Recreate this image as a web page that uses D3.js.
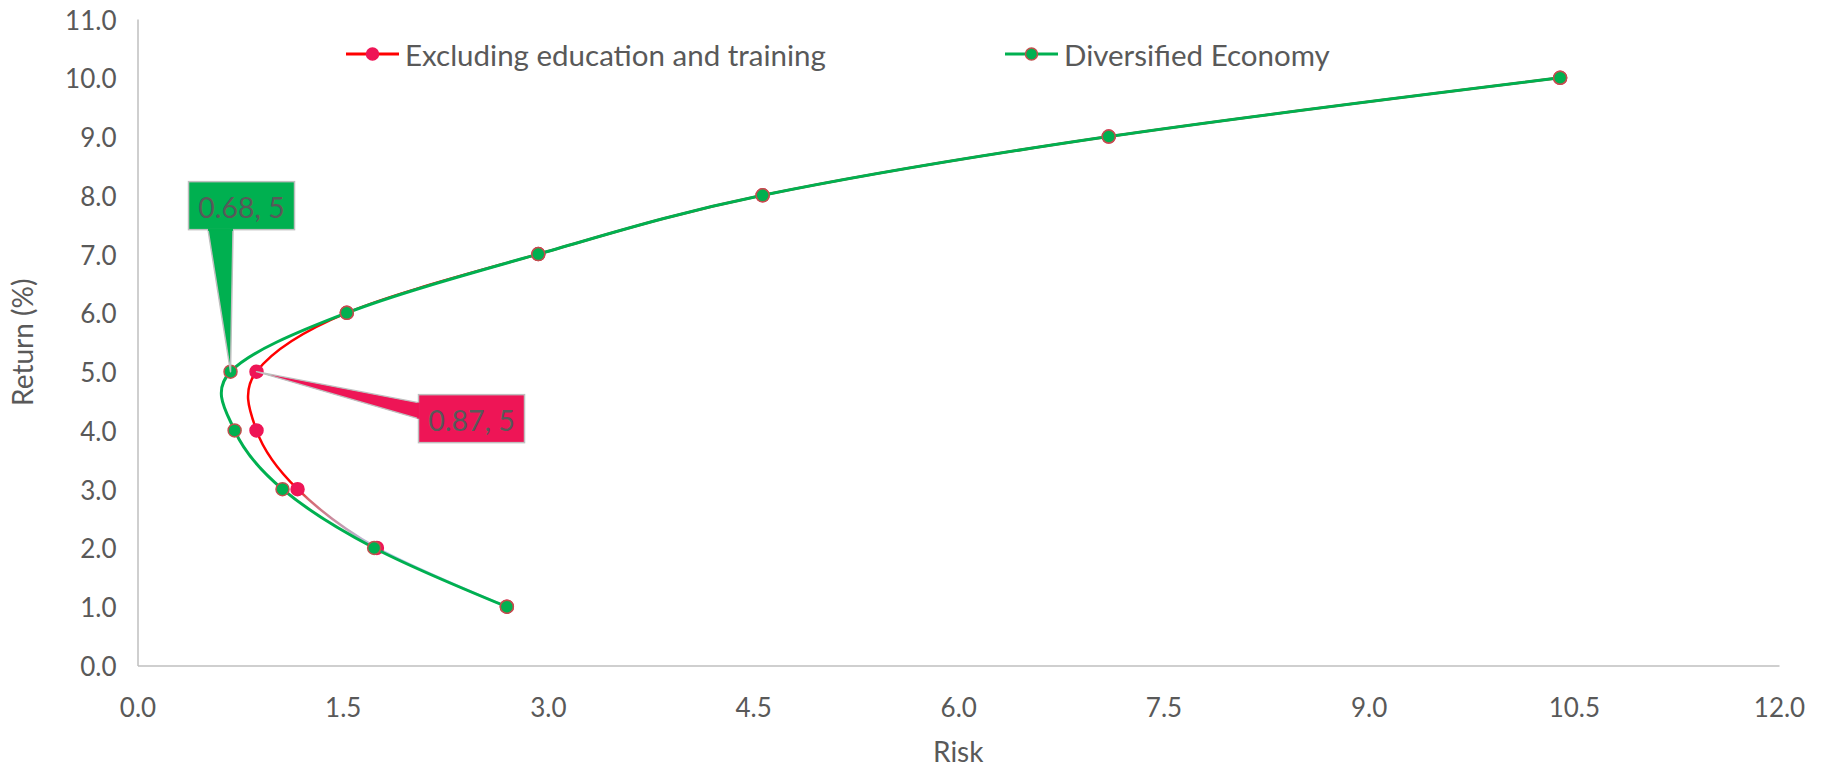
<!DOCTYPE html>
<html>
<head>
<meta charset="utf-8">
<script src="https://cdn.jsdelivr.net/npm/d3@7"></script>
<style>
  html, body { margin: 0; padding: 0; background: #fff; }
  svg { display: block; }
  text { font-family: Lato, "Open Sans", sans-serif; fill: #595959; }
</style>
</head>
<body>
<svg id="chart" width="1829" height="769"></svg>
<script>
// Efficient frontier: return (%) against risk for two portfolios
const returns = [1, 2, 3, 4, 5, 6, 7, 8, 9, 10];
const riskExcluding = [2.70, 1.75, 1.17, 0.87, 0.87, 1.53, 2.93, 4.57, 7.10, 10.40];
const riskDiversified = [2.70, 1.73, 1.06, 0.71, 0.68, 1.53, 2.93, 4.57, 7.10, 10.40];
const seriesNames = ["Excluding education and training", "Diversified Economy"];
const xTicks = [0, 1.5, 3, 4.5, 6, 7.5, 9, 10.5, 12];
const yTicks = [0, 1, 2, 3, 4, 5, 6, 7, 8, 9, 10, 11];
const labelledReturn = 5; // point carrying a value callout in each series

const plot = { left: 137.5, right: 1779, top: 19, bottom: 665.5 };
const tickFont = 26, titleFont = 28, legendFont = 29.5, calloutFont = 28.5;

const svg = d3.select("#chart");
const x = d3.scaleLinear().domain([0, 12]).range([plot.left, plot.right]);
const y = d3.scaleLinear().domain([0, 11]).range([plot.bottom, plot.top]);

const toPoints = risk => returns.map((r, i) => ({ x: risk[i], y: r }));
const series = [
  { name: seriesNames[0], pts: toPoints(riskExcluding), line: "url(#fadeRed)", lineW: 2.5,
    fill: "#ee1556", stroke: "#ee1556", r: 6.5, box: "#ee1556" },
  { name: seriesNames[1], pts: toPoints(riskDiversified), line: "#00b050", lineW: 3,
    fill: "#00b050", stroke: "#c0504d", r: 6.5, box: "#00b050" }
];

// Red curve fades toward a pale blue below the 3% point
const defs = svg.append("defs");
const grad = defs.append("linearGradient").attr("id", "fadeRed")
  .attr("gradientUnits", "userSpaceOnUse")
  .attr("x1", 0).attr("x2", 0).attr("y1", y(3.0)).attr("y2", y(2.0));
grad.append("stop").attr("offset", 0).attr("stop-color", "#ff0000");
grad.append("stop").attr("offset", 0.15).attr("stop-color", "#d8636b");
grad.append("stop").attr("offset", 1).attr("stop-color", "#b4c6e7");

// Axes
const xAxis = d3.axisBottom(x).tickValues(xTicks).tickFormat(d3.format(".1f")).tickSize(0).tickPadding(0);
const yAxis = d3.axisLeft(y).tickValues(yTicks).tickFormat(d3.format(".1f")).tickSize(0).tickPadding(0);

const gx = svg.append("g").attr("transform", `translate(0,${plot.bottom})`).call(xAxis);
gx.select(".domain").attr("stroke", "#bfbfbf").attr("stroke-width", 1.5);
gx.selectAll(".tick text").attr("dy", null).attr("y", 41).attr("dominant-baseline", "central")
  .style("font-size", tickFont + "px").style("font-family", "Lato").attr("fill", "#595959");

const gy = svg.append("g").attr("transform", `translate(${plot.left},0)`).call(yAxis);
gy.select(".domain").attr("stroke", "#bfbfbf").attr("stroke-width", 1.5);
gy.selectAll(".tick text").attr("dy", null).attr("x", -21).attr("dominant-baseline", "central")
  .style("font-size", tickFont + "px").style("font-family", "Lato").attr("fill", "#595959");

// Axis titles
svg.append("text").attr("x", (plot.left + plot.right) / 2).attr("y", 762)
  .attr("text-anchor", "middle")
  .style("font-size", titleFont + "px").text("Risk");
svg.append("text").attr("transform", `translate(22,${(plot.top + plot.bottom) / 2}) rotate(-90)`)
  .attr("text-anchor", "middle").attr("dominant-baseline", "central")
  .style("font-size", titleFont + "px").text("Return (%)");

// Smoothed lines and markers
const line = d3.line().x(d => x(d.x)).y(d => y(d.y)).curve(d3.curveCatmullRom.alpha(0));
series.forEach(s => {
  const g = svg.append("g");
  g.append("path").datum(s.pts).attr("d", line)
    .attr("fill", "none").attr("stroke", s.line).attr("stroke-width", s.lineW)
    .attr("stroke-linejoin", "round");
  g.selectAll("circle").data(s.pts).join("circle")
    .attr("cx", d => x(d.x)).attr("cy", d => y(d.y)).attr("r", s.r)
    .attr("fill", s.fill).attr("stroke", s.stroke).attr("stroke-width", 1.5);
});

// Value callouts
function callout(s, boxX, boxY, boxW, boxH, base) {
  const p = s.pts.find(d => d.y === labelledReturn);
  const px = x(p.x), py = y(p.y);
  const bx = px + boxX, by = py + boxY;
  const g = svg.append("g");
  g.append("rect").attr("x", bx).attr("y", by).attr("width", boxW).attr("height", boxH)
    .attr("fill", s.box).attr("stroke", "#bfbfbf").attr("stroke-width", 1.5);
  const wedge = base(bx, by, boxW, boxH);
  g.append("path").attr("d", `M${wedge[0][0]},${wedge[0][1]}L${px},${py}L${wedge[1][0]},${wedge[1][1]}`)
    .attr("fill", s.box).attr("stroke", "#bfbfbf").attr("stroke-width", 1.5).attr("stroke-linejoin", "round");
  // cover the box edge where the wedge joins it
  g.append("path").attr("d", `M${wedge[0][0]},${wedge[0][1]}L${wedge[1][0]},${wedge[1][1]}`)
    .attr("stroke", s.box).attr("stroke-width", 2.5);
  g.append("text").attr("x", bx + boxW / 2).attr("y", by + boxH / 2 + 1)
    .attr("text-anchor", "middle").attr("dominant-baseline", "central")
    .style("font-size", calloutFont + "px").attr("fill", "#595959")
    .text(`${p.x}, ${p.y}`);
}
callout(series[1], -42, -190, 106, 48, (bx, by, w, h) => [[bx + 19.5, by + h], [bx + 44.5, by + h]]);
callout(series[0], 162, 23, 106, 48, (bx, by, w, h) => [[bx, by + 8], [bx, by + 24]]);

// Legend
const legend = [
  { s: series[0], x0: 346, color: "#ff0000" },
  { s: series[1], x0: 1005, color: "#00b050" }
];
legend.forEach(l => {
  const g = svg.append("g").attr("transform", `translate(${l.x0},54)`);
  g.append("line").attr("x1", 0).attr("x2", 53).attr("y1", 0).attr("y2", 0)
    .attr("stroke", l.color).attr("stroke-width", 3);
  g.append("circle").attr("cx", 26.5).attr("cy", 0).attr("r", 6)
    .attr("fill", l.s.fill).attr("stroke", l.s.stroke).attr("stroke-width", 1.5);
  g.append("text").attr("x", 59).attr("y", 0).attr("dominant-baseline", "central")
    .style("font-size", legendFont + "px").text(l.s.name);
});
</script>
</body>
</html>
